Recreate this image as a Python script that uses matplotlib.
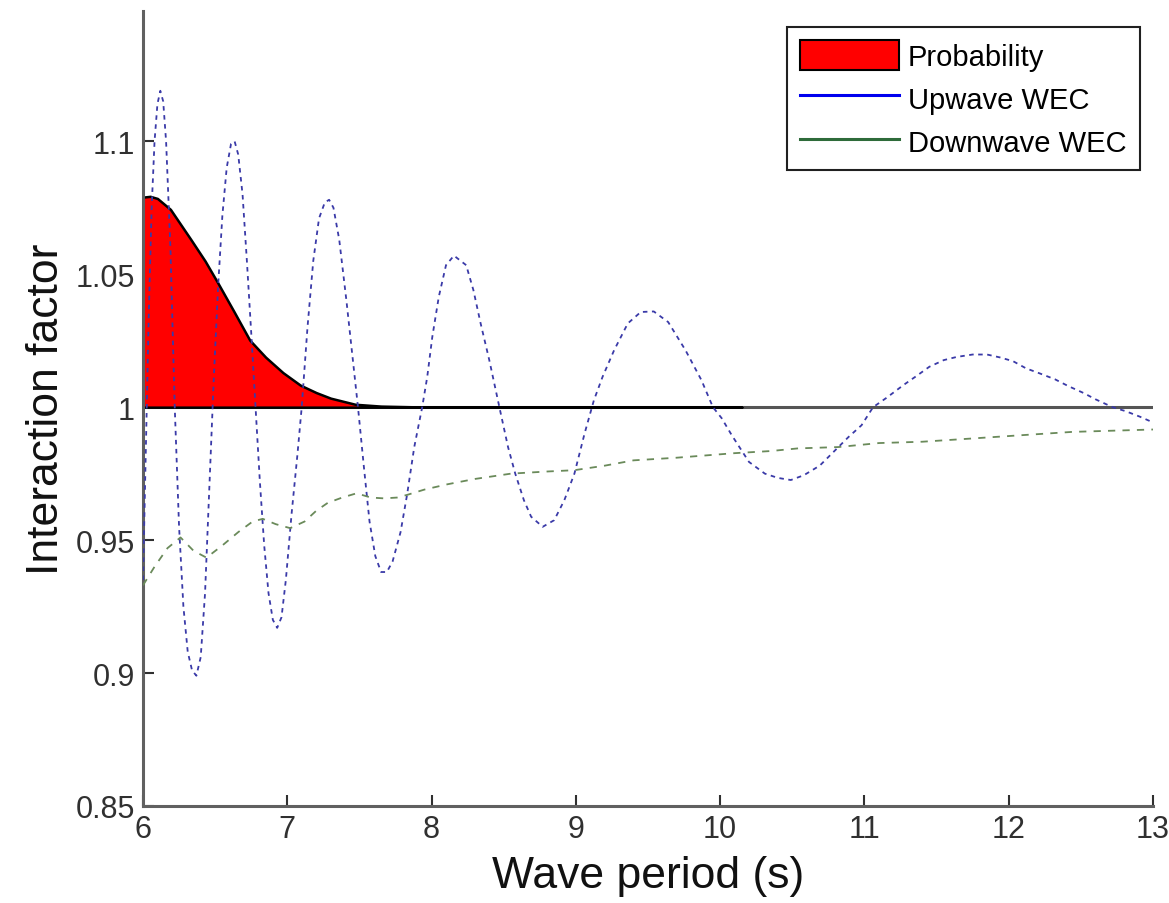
import matplotlib
matplotlib.use('Agg')
import matplotlib.pyplot as plt
from matplotlib.lines import Line2D
from matplotlib.patches import Patch

# values
upwave_t = [6.00, 6.02, 6.04, 6.06, 6.08, 6.10, 6.12, 6.14, 6.16, 6.19, 6.22, 6.25,
            6.28, 6.31, 6.34, 6.37, 6.40, 6.43, 6.46, 6.49, 6.52, 6.55, 6.58, 6.61,
            6.635, 6.66, 6.69, 6.72, 6.75, 6.78, 6.81, 6.84, 6.87, 6.90, 6.93, 6.96,
            6.99, 7.03, 7.07, 7.10, 7.14, 7.18, 7.22, 7.26, 7.29, 7.32, 7.36, 7.41,
            7.45, 7.49, 7.53, 7.57, 7.61, 7.65, 7.69, 7.73, 7.785, 7.83, 7.88, 7.935,
            7.97, 8.005, 8.05, 8.10, 8.155, 8.24, 8.29, 8.34, 8.40, 8.47, 8.53, 8.58,
            8.64, 8.69, 8.77, 8.85, 8.92, 8.99, 9.06, 9.125, 9.185, 9.265, 9.36, 9.45,
            9.54, 9.64, 9.76, 9.87, 9.95, 10.01, 10.08, 10.20, 10.31, 10.40, 10.49,
            10.58, 10.69, 10.89, 10.98, 11.06, 11.15, 11.27, 11.36, 11.45, 11.55, 11.64,
            11.75, 11.85, 11.94, 12.03, 12.12, 12.21, 12.32, 12.41, 12.52, 12.60, 12.72,
            12.81, 12.91, 12.99]
upwave_f = [0.935, 0.985, 1.035, 1.075, 1.100, 1.114, 1.119, 1.115, 1.100, 1.060, 1.000, 0.955,
            0.925, 0.908, 0.901, 0.899, 0.906, 0.930, 0.970, 1.010, 1.045, 1.072, 1.090, 1.099,
            1.100, 1.095, 1.080, 1.055, 1.028, 1.000, 0.972, 0.948, 0.930, 0.920, 0.917, 0.921,
            0.935, 0.960, 0.982, 1.000, 1.030, 1.055, 1.071, 1.077, 1.078, 1.075, 1.063, 1.040,
            1.020, 1.000, 0.978, 0.957, 0.944, 0.938, 0.938, 0.942, 0.953, 0.967, 0.985, 1.000,
            1.0114, 1.0264, 1.0415, 1.0534, 1.057, 1.0534, 1.044, 1.0315, 1.0177, 1.000, 0.985, 0.975,
            0.965, 0.9588, 0.955, 0.9575, 0.965, 0.975, 0.990, 1.0026, 1.0114, 1.0214, 1.0315, 1.0358,
            1.036, 1.032, 1.0214, 1.0102, 1.000, 0.9959, 0.9895, 0.9794, 0.975, 0.9734, 0.9726,
            0.9744, 0.978, 0.9888, 0.9932, 1.000, 1.0034, 1.0083, 1.0117, 1.0152, 1.0177, 1.0189,
            1.0198, 1.0198, 1.0187, 1.0173, 1.0146, 1.0128, 1.0105, 1.008, 1.0053, 1.003, 1.000,
            0.9985, 0.9964, 0.9945]

downwave_t = [6.00, 6.08, 6.17, 6.26, 6.35, 6.44, 6.55, 6.66, 6.76, 6.83, 6.92, 7.02,
              7.12, 7.20, 7.28, 7.38, 7.48, 7.58, 7.67, 7.76, 7.83, 7.95, 8.11, 8.30,
              8.55, 8.80, 8.99, 9.20, 9.40, 9.70, 10.10, 10.35, 10.54, 10.82, 11.10,
              11.40, 11.74, 12.10, 12.44, 12.75, 13.00]
downwave_f = [0.933, 0.940, 0.947, 0.951, 0.946, 0.9434, 0.948, 0.953, 0.957, 0.958, 0.956,
              0.9545, 0.957, 0.961, 0.964, 0.966, 0.9676, 0.966, 0.9657, 0.966, 0.967, 0.969,
              0.971, 0.973, 0.975, 0.9758, 0.9763, 0.978, 0.980, 0.981, 0.9827, 0.9835,
              0.9845, 0.985, 0.9865, 0.987, 0.9882, 0.9895, 0.9907, 0.9912, 0.9916]

# probability drawn on top of the 1.0 baseline
prob_t = [6.00, 6.05, 6.10, 6.19, 6.33, 6.43, 6.52, 6.63, 6.74, 6.85, 6.97, 7.09,
          7.20, 7.30, 7.47, 7.65, 8.00, 9.00, 10.15]
prob_p = [0.0790, 0.0793, 0.0785, 0.0744, 0.0632, 0.0550, 0.0466, 0.0360, 0.0252,
          0.0188, 0.0130, 0.0083, 0.0055, 0.0034, 0.0011, 0.0004, 0.0, 0.0, 0.0]

x_ticks = [6, 7, 8, 9, 10, 11, 12, 13]
y_ticks = [0.85, 0.9, 0.95, 1.0, 1.05, 1.1]
y_tick_labels = ['0.85', '0.9', '0.95', '1', '1.05', '1.1']

plt.rcParams['font.family'] = ['Liberation Sans', 'DejaVu Sans']

fig = plt.figure(figsize=(11.69, 9.04), dpi=100)
ax = fig.add_axes([143 / 1169, 1 - 807 / 904, 1010 / 1169, 795 / 904])

ax.axhline(1.0, color='#555555', linewidth=2.2, zorder=1)
base = 1.0
ax.fill_between(prob_t, base, [base + p for p in prob_p],
                facecolor='#ff0000', edgecolor='black', linewidth=1.8, zorder=2)

ax.plot(upwave_t, upwave_f, color='#3a3aa8', linewidth=1.3,
        linestyle=(0, (2.5, 2.5)), zorder=3)
ax.plot(downwave_t, downwave_f, color='#6a8a5a', linewidth=1.3,
        linestyle=(0, (4, 4)), zorder=3)

ax.set_xlim(6, 13)
ax.set_ylim(0.85, 1.149)
ax.set_xticks(x_ticks)
ax.set_xticklabels([str(v) for v in x_ticks])
ax.set_yticks(y_ticks)
ax.set_yticklabels(y_tick_labels)

for side in ['top', 'right']:
    ax.spines[side].set_visible(False)
for side in ['left', 'bottom']:
    ax.spines[side].set_color('#606060')
    ax.spines[side].set_linewidth(2.2)

ax.tick_params(direction='in', length=8, width=1.5, color='#303030',
               labelsize=22, labelcolor='#303030', pad=6)

ax.set_xlabel('Wave period (s)', fontsize=32, color='#111111', labelpad=8)
ax.set_ylabel('Interaction factor', fontsize=32, color='#111111', labelpad=6)

handles = [Patch(facecolor='#ff0000', edgecolor='black', linewidth=1.5),
           Line2D([], [], color='#0000ee', linewidth=2.2),
           Line2D([], [], color='#2e6b3a', linewidth=2.2)]
leg = ax.legend(handles, ['Probability', 'Upwave WEC', 'Downwave WEC'],
                loc='upper right', bbox_to_anchor=(0.987, 0.98), borderaxespad=0,
                fontsize=21, frameon=True, fancybox=False, framealpha=1,
                handlelength=3.4, handleheight=1.2, labelspacing=0.42,
                handletextpad=0.3, borderpad=0.45)
leg.get_frame().set_edgecolor('#202020')
leg.get_frame().set_linewidth(1.5)

fig.savefig('out.png', dpi=100)
